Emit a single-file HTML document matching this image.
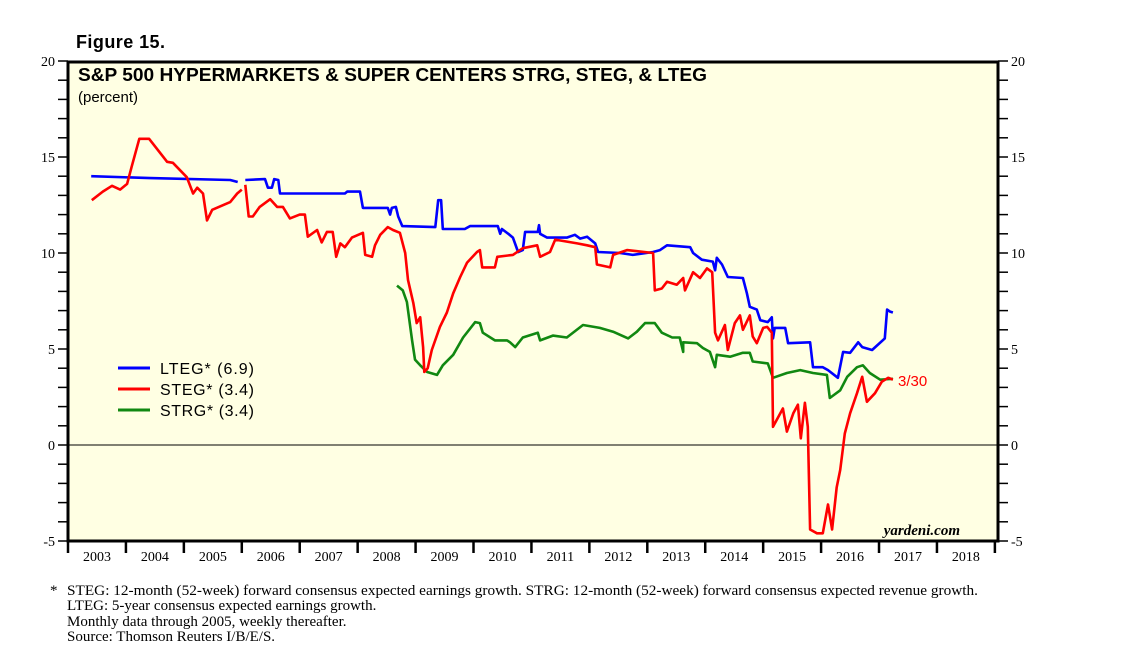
<!DOCTYPE html>
<html><head><meta charset="utf-8"><style>
body{margin:0;background:#fff;}
svg{display:block;}
</style></head><body>
<svg id="chart" width="1138" height="659" xmlns="http://www.w3.org/2000/svg">
<text x="76" y="48" font-family="Liberation Sans, sans-serif" font-weight="bold" font-size="18" textLength="89">Figure 15.</text>
<rect x="68" y="62" width="930" height="479" fill="#ffffe3" stroke="#000" stroke-width="3"/>
<text x="78" y="81" font-family="Liberation Sans, sans-serif" font-weight="bold" font-size="18" textLength="629" lengthAdjust="spacingAndGlyphs">S&amp;P 500 HYPERMARKETS &amp; SUPER CENTERS STRG, STEG, &amp; LTEG</text>
<text x="78" y="102" font-family="Liberation Sans, sans-serif" font-size="15">(percent)</text>
<g id="axes"></g>
<g id="series"></g>
<g font-family="Liberation Sans, sans-serif" font-size="16">
<line x1="118" y1="368" x2="150" y2="368" stroke="#0000ff" stroke-width="3"/>
<text x="160" y="374" textLength="94">LTEG* (6.9)</text>
<line x1="118" y1="389" x2="150" y2="389" stroke="#ff0000" stroke-width="3"/>
<text x="160" y="395" textLength="94">STEG* (3.4)</text>
<line x1="118" y1="410" x2="150" y2="410" stroke="#118811" stroke-width="3"/>
<text x="160" y="416" textLength="94">STRG* (3.4)</text>
</g>
<text x="898" y="386" fill="#ff0000" font-family="Liberation Sans, sans-serif" font-size="15">3/30</text>
<text x="960" y="535" text-anchor="end" font-family="Liberation Serif, serif" font-style="italic" font-weight="bold" font-size="15">yardeni.com</text>
<g font-family="Liberation Serif, serif" font-size="15">
<text x="50" y="595">*</text>
<text x="67" y="595" textLength="911" lengthAdjust="spacingAndGlyphs">STEG: 12-month (52-week) forward consensus expected earnings growth. STRG: 12-month (52-week) forward consensus expected revenue growth.</text>
<text x="67" y="610">LTEG: 5-year consensus expected earnings growth.</text>
<text x="67" y="626">Monthly data through 2005, weekly thereafter.</text>
<text x="67" y="641">Source: Thomson Reuters I/B/E/S.</text>
</g>
</svg>
<script>
const yTicks=[-5,0,5,10,15,20];
const years=[2003,2004,2005,2006,2007,2008,2009,2010,2011,2012,2013,2014,2015,2016,2017,2018];
const ltegDates=[2003.40,2004.42,2005.80,2005.93,null,2006.06,2006.40,2006.45,2006.52,2006.56,2006.63,2006.66,2007.78,2007.82,2008.04,2008.09,2008.52,2008.56,2008.59,2008.66,2008.70,2008.77,2009.34,2009.39,2009.44,2009.47,2009.85,2009.94,2010.11,2010.42,2010.46,2010.49,2010.60,2010.68,2010.77,2010.85,2010.89,2011.11,2011.13,2011.15,2011.27,2011.61,2011.75,2011.84,2011.96,2012.10,2012.15,2012.53,2012.75,2013.10,2013.22,2013.34,2013.74,2013.79,2013.94,2014.13,2014.17,2014.20,2014.29,2014.39,2014.65,2014.72,2014.77,2014.89,2014.95,2015.08,2015.15,2015.17,2015.20,2015.38,2015.43,2015.81,2015.86,2016.03,2016.12,2016.29,2016.38,2016.50,2016.64,2016.71,2016.88,2017.10,2017.14,2017.19,2017.24];
const ltegValues=[14.0,13.9,13.8,13.7,null,13.8,13.85,13.4,13.4,13.85,13.8,13.1,13.1,13.2,13.2,12.35,12.35,12.0,12.35,12.4,11.9,11.4,11.35,12.75,12.75,11.25,11.25,11.4,11.4,11.4,11.0,11.25,11.0,10.8,10.05,10.15,11.1,11.1,11.45,11.0,10.8,10.8,10.95,10.75,10.85,10.5,10.05,10.0,9.9,10.05,10.15,10.4,10.3,10.0,9.65,9.55,9.1,9.75,9.4,8.75,8.7,7.9,7.2,7.05,6.5,6.4,6.65,5.55,6.1,6.1,5.3,5.35,4.05,4.05,3.9,3.5,4.85,4.8,5.35,5.1,4.95,5.55,7.05,6.95,6.9];
const stegDates=[2003.41,2003.60,2003.76,2003.90,2004.02,2004.10,2004.23,2004.40,2004.71,2004.81,2005.05,2005.16,2005.23,2005.33,2005.40,2005.49,2005.80,2005.92,2006.00,null,2006.06,2006.12,2006.19,2006.31,2006.49,2006.61,2006.71,2006.83,2007.00,2007.09,2007.14,2007.30,2007.38,2007.47,2007.57,2007.63,2007.70,2007.78,2007.90,2008.09,2008.13,2008.25,2008.30,2008.39,2008.52,2008.61,2008.73,2008.82,2008.87,2008.96,2009.02,2009.08,2009.13,2009.15,2009.21,2009.28,2009.42,2009.54,2009.65,2009.77,2009.89,2010.06,2010.11,2010.15,2010.37,2010.41,2010.68,2010.85,2011.10,2011.15,2011.32,2011.41,2011.79,2011.96,2012.10,2012.13,2012.36,2012.41,2012.65,2013.10,2013.13,2013.25,2013.34,2013.51,2013.62,2013.65,2013.79,2013.91,2014.03,2014.12,2014.17,2014.22,2014.34,2014.39,2014.51,2014.60,2014.65,2014.77,2014.82,2014.89,2015.00,2015.07,2015.15,2015.17,2015.34,2015.41,2015.52,2015.60,2015.65,2015.72,2015.77,2015.81,2015.93,2016.03,2016.12,2016.19,2016.27,2016.33,2016.41,2016.50,2016.62,2016.71,2016.79,2016.93,2017.05,2017.16,2017.24];
const stegValues=[12.75,13.2,13.5,13.3,13.6,14.5,15.95,15.95,14.75,14.7,13.95,13.1,13.4,13.1,11.7,12.25,12.65,13.1,13.3,null,13.55,11.9,11.9,12.4,12.8,12.4,12.4,11.8,12.0,12.0,10.85,11.2,10.55,11.1,11.1,9.8,10.5,10.3,10.8,11.05,9.9,9.8,10.4,10.95,11.35,11.2,11.05,10.0,8.6,7.4,6.35,6.65,5.1,3.8,4.0,4.95,6.15,6.9,7.9,8.75,9.5,10.05,10.15,9.25,9.25,9.8,9.9,10.25,10.4,9.8,10.05,10.7,10.5,10.4,10.3,9.4,9.25,9.9,10.15,10.0,8.05,8.15,8.5,8.35,8.7,8.05,9.0,8.7,9.2,9.0,5.85,5.45,6.25,4.95,6.35,6.75,6.0,6.75,5.65,5.3,6.1,6.15,5.85,0.95,1.9,0.7,1.65,2.1,0.35,2.2,0.95,-4.4,-4.6,-4.6,-3.1,-4.4,-2.2,-1.3,0.6,1.65,2.7,3.55,2.25,2.7,3.3,3.5,3.4];
const strgDates=[2008.68,2008.78,2008.85,2008.94,2008.99,2009.08,2009.20,2009.37,2009.47,2009.65,2009.82,2010.03,2010.11,2010.16,2010.37,2010.58,2010.63,2010.72,2010.85,2011.11,2011.15,2011.37,2011.61,2011.89,2012.18,2012.41,2012.67,2012.82,2012.96,2013.13,2013.25,2013.43,2013.56,2013.62,2013.62,2013.86,2013.96,2014.08,2014.17,2014.20,2014.43,2014.65,2014.77,2014.82,2015.08,2015.17,2015.41,2015.64,2015.86,2016.10,2016.15,2016.33,2016.45,2016.62,2016.72,2016.84,2017.02,2017.24];
const strgValues=[8.3,8.05,7.45,5.45,4.45,4.15,3.8,3.65,4.15,4.7,5.6,6.4,6.35,5.85,5.45,5.45,5.35,5.1,5.6,5.85,5.45,5.7,5.6,6.25,6.1,5.9,5.55,5.9,6.35,6.35,5.85,5.6,5.6,4.85,5.35,5.3,5.05,4.85,4.05,4.7,4.6,4.8,4.8,4.35,4.25,3.5,3.75,3.9,3.75,3.65,2.45,2.85,3.55,4.05,4.15,3.75,3.4,3.45];

const L=68,R=998,T=62,B=541,yrW=57.93;
const xS=d=>L+(d-2003)*yrW;
const yS=v=>445-v*19.2;
const NS='http://www.w3.org/2000/svg';
const axes=document.getElementById('axes');
function mk(tag,attrs,parent){const e=document.createElementNS(NS,tag);for(const k in attrs)e.setAttribute(k,attrs[k]);parent.appendChild(e);return e;}
const z=mk('line',{x1:L,x2:R,y1:yS(0),y2:yS(0),stroke:'#000','stroke-width':1},axes);


for(let v=-5;v<=20;v++){
  const t1=mk('line',{x1:L-10,x2:L,y1:yS(v),y2:yS(v),stroke:'#000','stroke-width':1.5},axes);
  
  
  const t2=mk('line',{x1:R,x2:R+10,y1:yS(v),y2:yS(v),stroke:'#000','stroke-width':1.5},axes);
  
  
}
yTicks.forEach(v=>{
  const a=mk('text',{x:L-13,y:yS(v)+5,'text-anchor':'end','font-family':'Liberation Serif, serif','font-size':14},axes);
  a.textContent=v;
  
  
  const b=mk('text',{x:R+13,y:yS(v)+5,'font-family':'Liberation Serif, serif','font-size':14},axes);
  b.textContent=v;
  
  
});
years.forEach(y=>{
  const t=mk('line',{x1:xS(y),x2:xS(y),y1:B,y2:B+12,stroke:'#000','stroke-width':2.5},axes);
  
  
  const l=mk('text',{x:xS(y+0.5),y:B+20,'text-anchor':'middle','font-family':'Liberation Serif, serif','font-size':14},axes);
  l.textContent=y;
  
  
});
const last=mk('line',{x1:xS(2019),x2:xS(2019),y1:B,y2:B+12,stroke:'#000','stroke-width':2.5},axes);


const series=document.getElementById('series');
function draw(dates,vals,color,name){
  let d='',pen=false;
  for(let i=0;i<dates.length;i++){
    if(dates[i]===null||vals[i]===null){pen=false;continue;}
    d+=(pen?'L':'M')+xS(dates[i]).toFixed(1)+' '+yS(vals[i]).toFixed(1)+' ';pen=true;
  }
  const p=mk('path',{d:d,fill:'none',stroke:color,'stroke-width':2.6,'stroke-linejoin':'round'},series);
  
  
}
draw(strgDates,strgValues,'#118811','strg-line');
draw(ltegDates,ltegValues,'#0000ff','lteg-line');
draw(stegDates,stegValues,'#ff0000','steg-line');
</script>
</body></html>
